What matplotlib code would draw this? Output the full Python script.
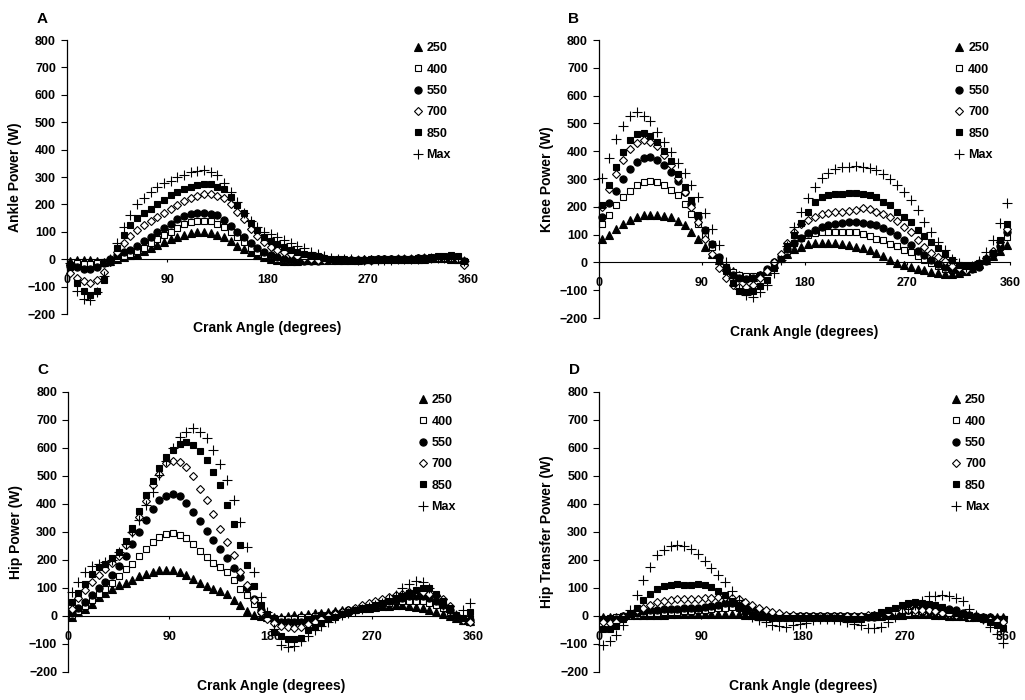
import numpy as np
import matplotlib
matplotlib.use("Agg")
import matplotlib.pyplot as plt

plt.rcParams['font.family'] = ['Liberation Sans', 'DejaVu Sans']
plt.rcParams['font.weight'] = 'bold'

# crank angle of each sample (degrees)
angles = np.arange(3, 360, 6)
labels = ['250', '400', '550', '700', '850', 'Max']

# Ankle power (W)
ankle_250 = [-5, -2, -2, -2, -5, -10, -5, 2, 8, 15,
             20, 30, 40, 52, 62, 72, 82, 90, 95, 98,
             98, 95, 90, 80, 65, 50, 38, 25, 15, 8,
             2, -2, -5, -5, -5, -4, -3, -3, -2, -2,
             -2, -2, -2, -2, -1, -1, -1, 0, 0, 0,
             1, 1, 2, 2, 3, 3, 3, 2, 0, -5]
ankle_400 = [-20, -15, -18, -18, -15, -10, -5, 5, 10, 18,
             30, 42, 58, 72, 88, 100, 115, 128, 135, 140,
             140, 138, 130, 117, 100, 80, 62, 42, 28, 15,
             8, 2, -2, -5, -5, -5, -4, -4, -3, -3,
             -3, -2, -2, -2, -2, -1, -1, -1, 0, 0,
             0, 1, 1, 2, 2, 3, 3, 2, -2, -8]
ankle_550 = [-25, -30, -35, -35, -30, -15, 0, 15, 25, 35,
             50, 65, 82, 98, 115, 130, 145, 158, 165, 168,
             168, 165, 160, 142, 120, 100, 80, 58, 40, 25,
             15, 8, 2, -2, -5, -5, -5, -5, -4, -4,
             -3, -3, -3, -2, -2, -2, -1, -1, 0, 0,
             1, 2, 3, 4, 5, 6, 6, 5, 2, -5]
ankle_700 = [-50, -70, -80, -85, -75, -45, -10, 25, 60, 85,
             105, 125, 140, 155, 170, 185, 198, 212, 222, 232,
             238, 238, 230, 222, 200, 172, 145, 112, 85, 62,
             45, 35, 25, 18, 10, 5, 0, -2, -3, -3,
             -3, -3, -2, -2, -2, -2, -1, -1, 0, 0,
             1, 2, 3, 4, 5, 5, 6, 5, 0, -20]
ankle_850 = [-30, -85, -115, -130, -115, -75, -10, 40, 88, 125,
             152, 170, 185, 200, 215, 233, 245, 258, 265, 272,
             275, 275, 265, 255, 228, 198, 168, 133, 105, 82,
             65, 55, 45, 35, 28, 20, 15, 10, 5, 2,
             0, -1, -2, -2, -2, -2, -2, -1, -1, 0,
             1, 2, 3, 5, 8, 10, 12, 15, 12, -5]
ankle_max = [-15, -115, -145, -150, -120, -60, 0, 61, 118, 163,
             200, 223, 245, 263, 277, 287, 301, 308, 317, 323,
             325, 320, 307, 280, 247, 208, 169, 140, 116, 100,
             92, 82, 70, 58, 48, 40, 28, 19, 10, 5,
             2, 0, -1, -2, -2, -3, -3, -2, -2, -1,
             0, 1, 2, 3, 4, 5, 6, 6, 4, -8]

# Knee power (W)
knee_250 = [83, 100, 120, 140, 152, 162, 170, 172, 170, 168,
            162, 150, 133, 110, 85, 57, 30, 8, -15, -32,
            -45, -52, -52, -45, -30, -5, 15, 30, 49, 57,
            66, 69, 69, 69, 69, 66, 61, 57, 51, 43,
            33, 22, 10, -2, -8, -17, -24, -29, -35, -38,
            -40, -40, -38, -30, -20, -5, 8, 22, 40, 62]
knee_400 = [138, 170, 208, 235, 258, 278, 288, 292, 290, 280,
            261, 241, 211, 175, 139, 95, 55, 15, -18, -35,
            -45, -50, -50, -45, -30, -5, 20, 40, 69, 87,
            99, 105, 109, 111, 111, 111, 109, 108, 103, 96,
            85, 79, 67, 60, 45, 36, 22, 10, -2, -14,
            -24, -29, -31, -29, -17, -2, 10, 34, 57, 93]
knee_550 = [162, 213, 258, 300, 335, 360, 375, 378, 370, 350,
            325, 293, 255, 210, 162, 115, 65, 20, -20, -45,
            -55, -58, -55, -45, -25, 0, 20, 48, 70, 88,
            105, 118, 128, 135, 140, 143, 145, 145, 143, 140,
            133, 125, 113, 100, 82, 62, 42, 25, 10, -5,
            -15, -25, -28, -28, -25, -15, 5, 30, 60, 110]
knee_700 = [200, 265, 320, 370, 408, 430, 440, 435, 418, 388,
            352, 305, 255, 200, 145, 85, 30, -20, -55, -80,
            -90, -88, -80, -55, -30, 0, 32, 70, 110, 140,
            153, 165, 174, 177, 181, 183, 186, 189, 195, 192,
            183, 174, 162, 150, 129, 109, 81, 55, 34, 19,
            4, -14, -20, -26, -17, -2, 16, 40, 75, 120]
knee_850 = [207, 279, 345, 399, 441, 462, 467, 455, 435, 402,
            365, 319, 273, 225, 171, 117, 66, 16, -32, -74,
            -104, -107, -104, -86, -62, -20, 12, 60, 99, 141,
            180, 219, 237, 243, 245, 247, 249, 249, 247, 243,
            235, 219, 205, 183, 163, 144, 117, 96, 75, 51,
            30, 10, -8, -12, -14, -8, 12, 35, 80, 140]
knee_max = [303, 375, 444, 491, 527, 541, 528, 510, 471, 434,
            398, 357, 321, 277, 234, 177, 120, 61, 0, -55,
            -95, -118, -125, -108, -80, -38, 10, 60, 126, 180,
            231, 273, 303, 321, 335, 343, 345, 347, 345, 341,
            331, 319, 299, 279, 255, 223, 187, 147, 109, 75,
            43, 12, -3, -17, -14, 4, 36, 81, 141, 213]

# Hip power (W)
hip_250 = [-3, 14, 26, 44, 68, 82, 98, 112, 119, 130,
           143, 151, 157, 163, 163, 163, 157, 148, 133, 118,
           106, 98, 89, 77, 56, 38, 18, 5, 0, -5,
           -5, -3, 0, 3, 5, 8, 10, 12, 15, 18,
           20, 22, 25, 28, 30, 32, 35, 36, 38, 38,
           36, 32, 28, 22, 15, 8, 0, -8, -15, -18]
hip_400 = [2, 18, 35, 56, 77, 98, 119, 142, 167, 187,
           214, 240, 264, 282, 294, 298, 290, 280, 256, 232,
           211, 190, 175, 157, 130, 98, 74, 44, 18, -5,
           -8, -10, -10, -8, -5, -3, 0, 3, 5, 8,
           12, 18, 22, 28, 32, 38, 42, 48, 52, 55,
           55, 55, 52, 48, 40, 30, 15, -5, -18, -20]
hip_550 = [12, 30, 50, 75, 100, 122, 148, 180, 215, 256,
           300, 342, 383, 413, 430, 437, 428, 403, 372, 338,
           302, 272, 240, 207, 172, 138, 100, 60, 22, -5,
           -15, -20, -22, -22, -20, -15, -8, 0, 5, 10,
           15, 20, 25, 30, 35, 40, 45, 52, 58, 65,
           70, 72, 70, 65, 55, 40, 20, 0, -15, -15]
hip_700 = [26, 64, 94, 123, 148, 168, 190, 215, 255, 300,
           355, 410, 467, 508, 546, 554, 550, 532, 499, 455,
           413, 365, 312, 264, 217, 157, 110, 56, 14, -10,
           -25, -35, -40, -42, -38, -30, -20, -10, 0, 8,
           15, 22, 30, 38, 45, 52, 60, 68, 75, 80,
           85, 88, 85, 80, 75, 60, 35, 5, -15, -20]
hip_850 = [50, 82, 115, 151, 175, 187, 207, 229, 268, 315,
           375, 431, 481, 529, 568, 594, 613, 621, 610, 589,
           556, 514, 467, 395, 330, 255, 181, 107, 38, 8,
           -57, -70, -81, -83, -78, -50, -38, -25, -12, -2,
           8, 15, 22, 28, 33, 38, 45, 52, 60, 70,
           82, 92, 100, 100, 80, 55, 30, 5, -8, 15]
hip_max = [86, 121, 157, 179, 187, 193, 200, 230, 258, 300,
           342, 395, 443, 505, 555, 600, 639, 657, 673, 657,
           637, 594, 544, 485, 413, 336, 246, 157, 68, 15,
           -45, -105, -110, -108, -90, -70, -50, -35, -20, -8,
           2, 10, 18, 25, 32, 38, 45, 60, 75, 100,
           115, 125, 120, 100, 70, 40, 15, 5, 20, 45]

# Hip transfer power (W)
ht_250 = [-5, -3, -2, 0, 2, 3, 4, 5, 5, 5,
          6, 6, 7, 7, 8, 8, 8, 8, 8, 8,
          6, 4, 2, 0, 0, 0, 0, 0, 0, 0,
          0, 0, 0, 0, 0, 0, 0, 0, 0, 0,
          0, 1, 2, 3, 5, 7, 8, 8, 7, 5,
          3, 1, 0, -1, -2, -3, -3, -4, -5, -5]
ht_400 = [-10, -8, -5, 0, 3, 5, 8, 10, 12, 14,
          15, 16, 17, 18, 20, 22, 25, 28, 30, 32,
          30, 25, 18, 12, 8, 5, 2, 0, 0, 0,
          0, 0, 0, 0, 0, 0, 0, 0, 0, 0,
          0, 2, 3, 5, 10, 12, 15, 18, 20, 18,
          15, 10, 5, 2, 0, -2, -5, -8, -10, -10]
ht_550 = [-15, -15, -10, 0, 8, 12, 18, 20, 22, 24,
          25, 25, 27, 28, 30, 32, 35, 40, 45, 48,
          50, 42, 30, 20, 12, 5, 2, 0, 0, 0,
          0, 0, 0, 0, 0, 0, 0, -2, -3, -5,
          -3, 0, 5, 10, 15, 20, 25, 28, 30, 30,
          28, 25, 20, 12, 5, 0, -3, -5, -10, -12]
ht_700 = [-20, -25, -20, -5, 5, 20, 30, 40, 50, 55,
          58, 60, 62, 62, 62, 65, 65, 68, 68, 65,
          60, 50, 40, 30, 22, 15, 10, 5, 2, 0,
          0, 0, 0, 0, 0, 0, 0, 0, 0, 2,
          5, 8, 12, 15, 18, 20, 22, 22, 20, 18,
          12, 8, 5, 2, -2, -5, -10, -15, -18, -20]
ht_850 = [-45, -45, -37, -10, 8, 30, 56, 80, 97, 106,
          112, 113, 112, 112, 113, 109, 103, 91, 74, 53,
          32, 17, 5, -2, -5, -6, -7, -8, -8, -8,
          -8, -8, -7, -6, -6, -7, -10, -12, -12, -4,
          2, 14, 20, 30, 40, 46, 50, 48, 44, 40,
          32, 20, 14, 8, 2, -5, -10, -20, -32, -42]
ht_max = [-104, -90, -69, -33, 20, 74, 129, 174, 218, 236,
          249, 254, 249, 240, 222, 198, 172, 147, 121, 91,
          56, 20, -5, -15, -21, -33, -37, -39, -33, -30,
          -25, -15, -10, -10, -12, -15, -20, -27, -33, -42,
          -42, -39, -21, -4, 10, 25, 40, 53, 70, 70,
          74, 72, 64, 52, 25, 5, -10, -39, -65, -95]

# marker style per series: (marker, facecolor, size)
styles = [('^', 'black', 5.2), ('s', 'white', 4.6), ('o', 'black', 5.2),
          ('D', 'white', 4.2), ('s', 'black', 5.0), ('+', 'black', 6.8)]


def draw_panel(ax, letter, ylabel, series):
    for vals, lab, (mk, fc, ms) in zip(series, labels, styles):
        ax.plot(angles, vals, linestyle='none', marker=mk, markersize=ms,
                markerfacecolor=fc, markeredgecolor='black',
                markeredgewidth=0.8, label=lab, clip_on=False)
    ax.set_xlim(0, 360)
    ax.set_ylim(-200, 800)
    ax.set_xticks([0, 90, 180, 270, 360])
    ax.set_yticks(range(-200, 801, 100))
    ax.spines['top'].set_visible(False)
    ax.spines['right'].set_visible(False)
    ax.spines['bottom'].set_position(('data', 0))
    ax.spines['bottom'].set_linewidth(0.8)
    ax.spines['left'].set_linewidth(0.9)
    ax.tick_params(axis='y', direction='out', length=4, width=0.8, pad=4, labelsize=9)
    ax.tick_params(axis='x', direction='out', length=2.5, width=0.8, pad=8, labelsize=9)
    for t in ax.get_xticklabels() + ax.get_yticklabels():
        t.set_fontweight('bold')
    ax.set_ylabel(ylabel, fontsize=10, fontweight='bold', labelpad=4)
    ax.text(0.5, -0.05, 'Crank Angle (degrees)', transform=ax.transAxes,
            ha='center', va='center', fontsize=10, fontweight='bold')
    ax.text(-0.062, 1.077, letter, transform=ax.transAxes, ha='center',
            va='center', fontsize=11, fontweight='bold')
    ax.legend(loc='upper right', bbox_to_anchor=(0.97, 1.01), frameon=False,
              borderaxespad=0, handletextpad=0.2, labelspacing=0.75,
              handlelength=1.0, numpoints=1, prop={'size': 9, 'weight': 'bold'})


fig = plt.figure(figsize=(10.25, 7), dpi=100)
ax_a = fig.add_axes([0.0654, 0.5514, 0.391, 0.3914])
ax_b = fig.add_axes([0.5844, 0.5457, 0.401, 0.397])
ax_c = fig.add_axes([0.0666, 0.04, 0.395, 0.40])
ax_d = fig.add_axes([0.5847, 0.04, 0.3975, 0.40])

draw_panel(ax_a, 'A', 'Ankle Power (W)',
           [ankle_250, ankle_400, ankle_550, ankle_700, ankle_850, ankle_max])
draw_panel(ax_b, 'B', 'Knee Power (W)',
           [knee_250, knee_400, knee_550, knee_700, knee_850, knee_max])
draw_panel(ax_c, 'C', 'Hip Power (W)',
           [hip_250, hip_400, hip_550, hip_700, hip_850, hip_max])
draw_panel(ax_d, 'D', 'Hip Transfer Power (W)',
           [ht_250, ht_400, ht_550, ht_700, ht_850, ht_max])

fig.savefig('out.png', dpi=100)
